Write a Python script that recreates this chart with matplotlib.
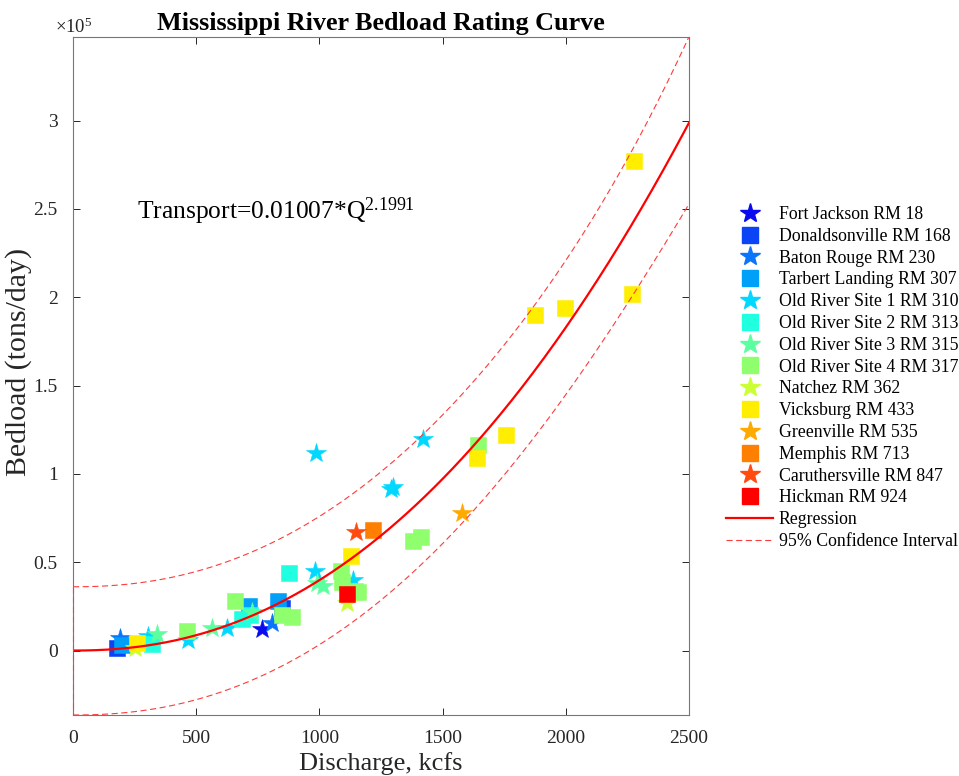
import numpy as np
import matplotlib
matplotlib.use("Agg")
import matplotlib.pyplot as plt
from matplotlib.lines import Line2D
from matplotlib.ticker import FuncFormatter

plt.rcParams['font.family'] = ['Liberation Serif', 'DejaVu Serif']
plt.rcParams['mathtext.fontset'] = 'custom'
plt.rcParams['mathtext.rm'] = 'Liberation Serif'
plt.rcParams['mathtext.it'] = 'Liberation Serif:italic'

# stations: name, marker, colour
stations = ["Fort Jackson RM 18", "Donaldsonville RM 168", "Baton Rouge RM 230",
            "Tarbert Landing RM 307", "Old River Site 1 RM 310", "Old River Site 2 RM 313",
            "Old River Site 3 RM 315", "Old River Site 4 RM 317", "Natchez RM 362",
            "Vicksburg RM 433", "Greenville RM 535", "Memphis RM 713",
            "Caruthersville RM 847", "Hickman RM 924"]
markers = ["*", "s", "*", "s", "*", "s", "*", "s", "*", "s", "*", "s", "*", "s"]
colors = ["#0a0af0", "#0a44f5", "#0a74fa", "#00a0f8", "#00d8ff", "#20ffe0", "#5cffa0",
          "#90ff6e", "#ccff33", "#ffee00", "#ffaa00", "#ff8000", "#ff4a10", "#ff0000"]

# discharge (kcfs) and bedload (tons/day)
discharge = [
    [766],
    [177, 850],
    [191, 806],
    [198, 716, 833],
    [306, 468, 624, 982, 1138, 985, 1290, 1300, 1419],
    [319, 685, 718, 878],
    [340, 563, 725, 989, 1016],
    [461, 657, 847, 890, 1086, 1092, 1144, 1158, 1379, 1411, 1645],
    [250, 1111],
    [258, 1130, 1638, 1757, 1875, 1997, 2267, 2277],
    [1580],
    [1219],
    [1147],
    [1113],
]
bedload = [
    [12300],
    [1500, 24000],
    [7000, 15700],
    [3400, 25000, 28000],
    [8100, 6200, 12900, 45000, 40000, 112000, 91500, 92500, 120000],
    [3600, 17600, 20000, 44000],
    [9100, 12700, 22000, 38000, 36500],
    [11000, 28000, 20000, 19000, 45000, 39000, 33500, 33300, 62000, 64300, 116500],
    [1400, 27000],
    [4400, 53500, 109000, 122000, 190000, 194000, 202000, 277000],
    [77700],
    [68300],
    [67300],
    [32000],
]

# rating curve and interval parameters
coef = 0.01007
expo = 2.1991
ci_upper = (0.361e5, 0.327e5, 4.6)
ci_lower = (0.365e5, 0.280e5, 4.3)
q_max = 2500

fig = plt.figure(figsize=(9.59, 7.76), dpi=100)
ax = fig.add_axes([73 / 959, 61 / 776, 616 / 959, 678.3 / 776])

for name, m, c, xs, ys in zip(stations, markers, colors, discharge, bedload):
    ms = 15 if m == "*" else 11.5
    ax.plot(xs, np.array(ys) / 1e5, linestyle="none", marker=m, markersize=ms,
            markerfacecolor=c, markeredgecolor=c, markeredgewidth=0.4, zorder=2)

q = np.linspace(0, q_max, 400)
fit = coef * q ** expo
s_u, c_u, p_u = ci_upper
s_l, c_l, p_l = ci_lower
upper = fit + np.sqrt(s_u ** 2 + (c_u * (q / q_max) ** p_u) ** 2)
lower = fit - np.sqrt(s_l ** 2 + (c_l * (q / q_max) ** p_l) ** 2)

ax.plot(q, fit / 1e5, color="#ff0000", linewidth=1.6, zorder=3)
dash_kw = dict(color="#ff3a3a", linewidth=0.8, dashes=(5.5, 3.2), zorder=3)
ax.plot(q, upper / 1e5, **dash_kw)
ax.plot(q, lower / 1e5, **dash_kw)
ax.plot([0, 0], [upper[0] / 1e5, lower[0] / 1e5], clip_on=False, **dash_kw)

ax.set_xlim(0, q_max)
ax.set_ylim(lower[0] / 1e5, upper[-1] / 1e5)
ax.set_xticks([0, 500, 1000, 1500, 2000, 2500])
ax.set_yticks([0, 0.5, 1, 1.5, 2, 2.5, 3])
ax.yaxis.set_major_formatter(FuncFormatter(lambda v, p: "%g" % v))
ax.tick_params(direction="in", length=5, width=0.7, top=True, right=True,
               labelsize=14, colors="#262626")
ax.tick_params(axis="x", pad=11)
ax.tick_params(axis="y", pad=11)
for sp in ax.spines.values():
    sp.set_color("#777777")
    sp.set_linewidth(0.8)

ax.text(-0.03, 1.005, r"$\times$10$^{5}$", transform=ax.transAxes, fontsize=13.5,
        color="#262626", ha="left", va="baseline")
ax.text(260, 2.443, r"Transport=0.01007*Q$^{2.1991}$", fontsize=18.4, ha="left",
        va="baseline", color="black")

ax.set_title("Mississippi River Bedload Rating Curve", fontsize=18.8,
             fontweight="bold", pad=5)
ax.set_xlabel("Discharge, kcfs", fontsize=19, color="#262626")
ax.set_ylabel("Bedload (tons/day)", fontsize=21.5, color="#262626")
ax.xaxis.set_label_coords(0.5, -0.054)
ax.yaxis.set_label_coords(-0.066, 0.52)

handles = []
for m, c in zip(markers, colors):
    ms = 15 if m == "*" else 11.5
    handles.append(Line2D([], [], linestyle="none", marker=m, markersize=ms,
                          markerfacecolor=c, markeredgecolor=c))
handles.append(Line2D([], [], color="#ff0000", linewidth=1.6))
handles.append(Line2D([], [], color="#ff3a3a", linewidth=0.8, dashes=(5.5, 3.2)))
labels = stations + ["Regression", "95% Confidence Interval"]
fig.legend(handles, labels, loc="upper left", bbox_to_anchor=(726 / 959, 1 - 206 / 776),
           frameon=False, fontsize=12.8, labelspacing=0.27, handlelength=2.66,
           handletextpad=0.3, borderpad=0, borderaxespad=0)

fig.savefig("out.png", dpi=100)
